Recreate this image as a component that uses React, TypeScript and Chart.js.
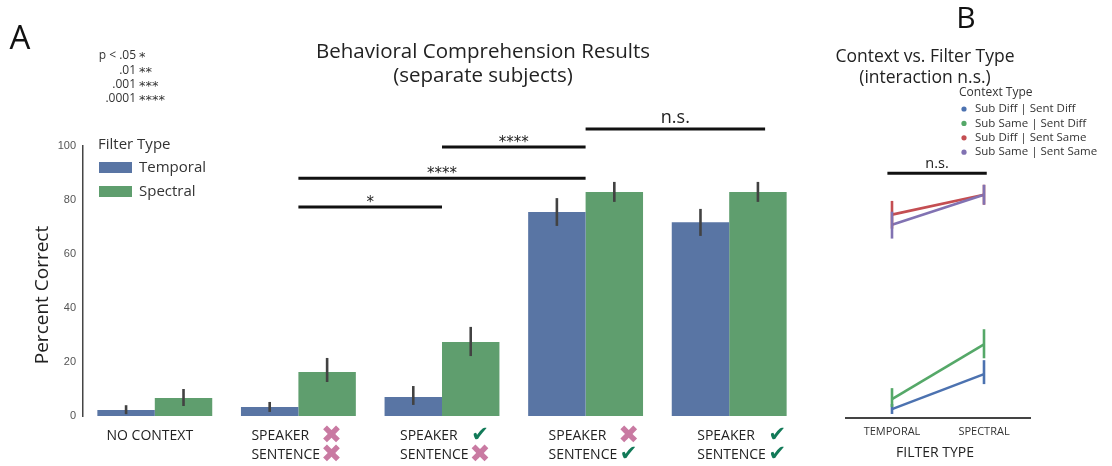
import React, { useEffect, useRef } from "react";
import { Chart, registerables } from "chart.js";

Chart.register(...registerables);

// ---- Panel A data: comprehension by context condition and filter type ----
const contextLabels = ["NO CONTEXT", "SPEAKER", "SPEAKER", "SPEAKER", "SPEAKER"];
const secondLineLabels = ["", "SENTENCE", "SENTENCE", "SENTENCE", "SENTENCE"];
const speakerMatch = [null, false, true, false, true];
const sentenceMatch = [null, false, false, true, true];

const filterTypes = ["Temporal", "Spectral"];

const temporalMean = [2.2, 3.3, 7.0, 75.6, 71.8];
const temporalLow = [0.7, 1.5, 4.1, 70.4, 66.7];
const temporalHigh = [4.0, 5.2, 11.1, 80.7, 76.7];

const spectralMean = [6.7, 16.3, 27.4, 83.0, 83.0];
const spectralLow = [3.7, 12.6, 22.2, 79.3, 79.3];
const spectralHigh = [10.0, 21.5, 33.0, 86.7, 86.7];

const yTicks = [0, 20, 40, 60, 80, 100];

// Pairwise comparisons: category span and bracket height (percent units)
const sigFrom = [1, 1, 2, 3];
const sigTo = [2, 3, 3, 4.25];
const sigHeight = [77.4, 88.1, 99.6, 106.3];
const sigLabel = ["*", "****", "****", "n.s."];

const pThresholds = ["p < .05", ".01", ".001", ".0001"];
const pStars = ["*", "**", "***", "****"];

// ---- Panel B data: interaction of context and filter type ----
const contextTypes = [
  "Sub Diff | Sent Diff",
  "Sub Same | Sent Diff",
  "Sub Diff | Sent Same",
  "Sub Same | Sent Same",
];
const contextIndex = [1, 2, 3, 4];
const filterLabels = ["TEMPORAL", "SPECTRAL"];
const interactionHeight = 91;

const barColors = ["#5975a4", "#5f9e6e"];
const lineColors = ["#4c72b0", "#55a868", "#c44e52", "#8172b2"];
const crossColor = "#c97aa2";
const checkColor = "#127a58";

const SANS = "'Open Sans', sans-serif";
const SYM = "'DejaVu Sans', sans-serif";

function drawText(
  ctx: CanvasRenderingContext2D,
  str: string,
  x: number,
  y: number,
  font: string,
  color: string,
  align: CanvasTextAlign = "left",
  baseline: CanvasTextBaseline = "middle"
) {
  ctx.font = font;
  ctx.fillStyle = color;
  ctx.textAlign = align;
  ctx.textBaseline = baseline;
  ctx.fillText(str, x, y);
}

const panelADecor = {
  id: "panelADecor",
  afterDraw(chart: any) {
    const ctx: CanvasRenderingContext2D = chart.ctx;
    const xs = chart.scales.x;
    const ys = chart.scales.y;
    ctx.save();

    // error bars
    const lows = [temporalLow, spectralLow];
    const highs = [temporalHigh, spectralHigh];
    ctx.strokeStyle = "#424242";
    ctx.lineWidth = 2.6;
    chart.data.datasets.forEach((_: any, di: number) => {
      const meta = chart.getDatasetMeta(di);
      meta.data.forEach((el: any, i: number) => {
        ctx.beginPath();
        ctx.moveTo(el.x, ys.getPixelForValue(lows[di][i]));
        ctx.lineTo(el.x, ys.getPixelForValue(highs[di][i]));
        ctx.stroke();
      });
    });

    // significance brackets
    ctx.strokeStyle = "#111";
    ctx.lineWidth = 3;
    sigLabel.forEach((lab, k) => {
      const x1 = xs.getPixelForValue(sigFrom[k]);
      const x2 = xs.getPixelForValue(sigTo[k]);
      const y = ys.getPixelForValue(sigHeight[k]);
      ctx.beginPath();
      ctx.moveTo(x1, y);
      ctx.lineTo(x2, y);
      ctx.stroke();
      const cx = (x1 + x2) / 2;
      if (lab === "n.s.") {
        drawText(ctx, lab, cx, y - 6, `18px ${SANS}`, "#222", "center", "alphabetic");
      } else {
        drawText(ctx, lab, cx, y, `15px ${SYM}`, "#222", "center", "alphabetic");
      }
    });

    // legend
    drawText(ctx, "Filter Type", 98, 145, `15px ${SANS}`, "#333");
    filterTypes.forEach((name, i) => {
      const top = 162 + i * 24;
      ctx.fillStyle = barColors[i];
      ctx.fillRect(99, top, 33, 11);
      drawText(ctx, name, 139, top + 5.5, `15px ${SANS}`, "#333");
    });

    // title
    drawText(ctx, "Behavioral Comprehension Results", 483, 52, `20.5px ${SANS}`, "#222", "center");
    drawText(ctx, "(separate subjects)", 483, 76, `20.5px ${SANS}`, "#222", "center");

    // y axis title
    ctx.save();
    ctx.translate(43, 295);
    ctx.rotate(-Math.PI / 2);
    drawText(ctx, "Percent Correct", 0, 0, `19px ${SANS}`, "#222", "center");
    ctx.restore();

    // category labels (label blocks sit slightly wider apart than the bar groups)
    contextLabels.forEach((lab, i) => {
      const cx = xs.getPixelForValue(i) + (i - 1) * 5;
      if (speakerMatch[i] === null) {
        drawText(ctx, lab, cx, 436, `14px ${SANS}`, "#222", "center");
        return;
      }
      const left = cx - 47;
      const symX = cx + 33;
      drawText(ctx, lab, left, 436, `14px ${SANS}`, "#222");
      drawText(ctx, secondLineLabels[i], left, 455, `14px ${SANS}`, "#222");
      [speakerMatch[i], sentenceMatch[i]].forEach((ok, r) => {
        const y = r === 0 ? 436 : 455;
        if (ok) drawText(ctx, "\u2714", symX, y, `21px ${SYM}`, checkColor, "center");
        else drawText(ctx, "\u2716", symX, y + 0.5, `25px ${SYM}`, crossColor, "center");
      });
    });

    // panel letter and significance key
    drawText(ctx, "A", 20, 40, `33px ${SANS}`, "#111", "center");
    pThresholds.forEach((t, i) => {
      const y = [56, 71, 85, 99][i];
      drawText(ctx, t, 136, y, `12px ${SANS}`, "#333", "right");
      drawText(ctx, pStars[i], 139, y + 5, `13px ${SYM}`, "#333", "left", "alphabetic");
    });

    ctx.restore();
  },
};

const panelBDecor = {
  id: "panelBDecor",
  afterDraw(chart: any) {
    const ctx: CanvasRenderingContext2D = chart.ctx;
    const xs = chart.scales.x;
    const ys = chart.scales.y;
    ctx.save();

    // error bars in series colours
    const lows = [temporalLow, spectralLow];
    const highs = [temporalHigh, spectralHigh];
    ctx.lineWidth = 2.6;
    contextTypes.forEach((_, k) => {
      const meta = chart.getDatasetMeta(k);
      ctx.strokeStyle = lineColors[k];
      meta.data.forEach((el: any, j: number) => {
        const idx = contextIndex[k];
        ctx.beginPath();
        ctx.moveTo(el.x, ys.getPixelForValue(lows[j][idx]));
        ctx.lineTo(el.x, ys.getPixelForValue(highs[j][idx]));
        ctx.stroke();
      });
    });

    // interaction bracket
    const y = ys.getPixelForValue(interactionHeight);
    const x1 = xs.getPixelForValue(-0.05);
    const x2 = xs.getPixelForValue(1.03);
    ctx.strokeStyle = "#111";
    ctx.lineWidth = 3;
    ctx.beginPath();
    ctx.moveTo(x1, y);
    ctx.lineTo(x2, y);
    ctx.stroke();
    drawText(ctx, "n.s.", (x1 + x2) / 2, y - 5, `14.5px ${SANS}`, "#222", "center", "alphabetic");

    // title and panel letter (canvas starts at page x = 830)
    drawText(ctx, "Context vs. Filter Type", 95, 57, `17.5px ${SANS}`, "#222", "center");
    drawText(ctx, "(interaction n.s.)", 95, 78, `17.5px ${SANS}`, "#222", "center");
    drawText(ctx, "B", 136, 19, `30px ${SANS}`, "#111", "center");

    // legend
    drawText(ctx, "Context Type", 129, 93, `12px ${SANS}`, "#333");
    contextTypes.forEach((name, k) => {
      const yy = 109 + k * 14.4;
      ctx.fillStyle = lineColors[k];
      ctx.beginPath();
      ctx.arc(134, yy, 2.6, 0, Math.PI * 2);
      ctx.fill();
      drawText(ctx, name, 145, yy, `11.5px ${SANS}`, "#333");
    });

    // axis title
    drawText(ctx, "FILTER TYPE", 105, 453, `14px ${SANS}`, "#222", "center");

    ctx.restore();
  },
};

export default function App() {
  const refA = useRef<HTMLCanvasElement>(null);
  const refB = useRef<HTMLCanvasElement>(null);

  useEffect(() => {
    const chartA = new Chart(refA.current as HTMLCanvasElement, {
      type: "bar",
      data: {
        labels: contextLabels,
        datasets: [
          { label: filterTypes[0], data: temporalMean, backgroundColor: barColors[0], borderWidth: 0 },
          { label: filterTypes[1], data: spectralMean, backgroundColor: barColors[1], borderWidth: 0 },
        ],
      },
      options: {
        animation: false,
        responsive: false,
        devicePixelRatio: 1,
        layout: { padding: { left: 0, right: 29, top: 146, bottom: 50 } },
        datasets: { bar: { barPercentage: 1, categoryPercentage: 0.8 } },
        plugins: { legend: { display: false }, tooltip: { enabled: false } },
        scales: {
          x: { display: false, offset: true },
          y: {
            min: 0,
            max: 100,
            afterBuildTicks: (s: any) => {
              s.ticks = yTicks.map((v) => ({ value: v }));
            },
            afterFit: (s: any) => {
              s.width = 83;
            },
            grid: { display: false, drawTicks: false },
            border: { display: true, color: "#444", width: 1.5 },
            ticks: {
              padding: 7,
              color: "#555",
              font: { family: "'Liberation Sans', Arial, sans-serif", size: 11 },
            },
          },
        },
      },
      plugins: [panelADecor],
    } as any);

    const chartB = new Chart(refB.current as HTMLCanvasElement, {
      type: "line",
      data: {
        labels: filterLabels,
        datasets: contextTypes.map((name, k) => ({
          label: name,
          data: [temporalMean[contextIndex[k]], spectralMean[contextIndex[k]]],
          borderColor: lineColors[k],
          backgroundColor: lineColors[k],
          borderWidth: 2.6,
          pointRadius: 0,
          tension: 0,
          fill: false,
          order: contextTypes.length - k,
        })),
      },
      options: {
        animation: false,
        responsive: false,
        devicePixelRatio: 1,
        layout: { padding: { left: 16, right: 82, top: 149, bottom: 0 } },
        plugins: { legend: { display: false }, tooltip: { enabled: false } },
        scales: {
          x: {
            offset: true,
            afterFit: (s: any) => {
              s.height = 48;
            },
            grid: { display: false, drawTicks: false },
            border: { display: true, color: "#444", width: 2 },
            ticks: {
              padding: 7,
              color: "#333",
              font: { family: SANS, size: 11 },
              maxRotation: 0,
            },
          },
          y: { display: false, min: 0, max: 100 },
        },
      },
      plugins: [panelBDecor],
    } as any);

    return () => {
      chartA.destroy();
      chartB.destroy();
    };
  }, []);

  return (
    <div
      style={{
        position: "fixed",
        left: 0,
        top: 0,
        width: 1112,
        height: 466,
        background: "#fff",
        overflow: "hidden",
      }}
    >
      <canvas ref={refA} width={830} height={466} style={{ position: "absolute", left: 0, top: 0 }} />
      <canvas ref={refB} width={282} height={466} style={{ position: "absolute", left: 830, top: 0 }} />
    </div>
  );
}
